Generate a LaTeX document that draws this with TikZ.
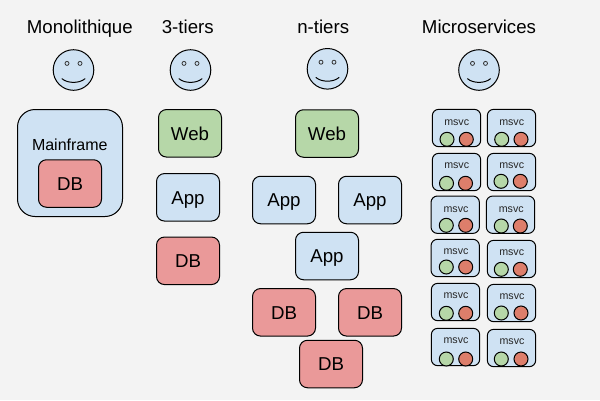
\documentclass[tikz,border=0pt]{standalone}
\usepackage{fontspec}
\setmainfont{Liberation Sans}
\definecolor{bgc}{HTML}{F3F3F3}
\definecolor{bluec}{HTML}{CFE2F3}
\definecolor{greenc}{HTML}{B6D7A8}
\definecolor{redc}{HTML}{EA9999}
\definecolor{dotred}{HTML}{DD7E6B}
\tikzset{
  title/.style={font=\fontsize{18.67}{22}\selectfont,anchor=base,inner sep=0pt,text=black},
  tier/.style={draw=black,line width=1pt,rounded corners=8pt,minimum width=63pt,minimum height=47.5pt,
    inner sep=0pt,outer sep=0pt,font=\fontsize{18.67}{22}\selectfont,text height=13.4pt,text depth=0pt,text=black},
  webbox/.style={tier,fill=greenc},
  appbox/.style={tier,fill=bluec},
  dbbox/.style={tier,fill=redc},
  mainbox/.style={draw=black,line width=1pt,rounded corners=17.5pt,fill=bluec,minimum width=105pt,minimum height=107pt,outer sep=0pt,inner sep=0pt},
  mainlabel/.style={font=\fontsize{16}{20}\selectfont,anchor=base,inner sep=0pt,text=black},
  msvcbox/.style={draw=black,line width=1pt,rounded corners=6.5pt,fill=bluec,minimum width=48.4pt,minimum height=37.4pt,outer sep=0pt,inner sep=0pt},
  msvclabel/.style={font=\fontsize{10.67}{12}\selectfont,inner sep=0pt,text height=5.6pt,text depth=0pt,text=black!85},
  dot/.style={draw=black,line width=1pt,circle,minimum size=14pt,inner sep=0pt,outer sep=0pt},
  face/.style={draw=black,line width=1pt,circle,fill=bluec,minimum size=40.6pt,inner sep=0pt,outer sep=0pt},
  eye/.style={draw=black!80,line width=.8pt,circle,fill=bluec,minimum size=4pt,inner sep=0pt,outer sep=0pt},
  smiley/.pic={
    \node[face] (-head) at (0,0) {};
    \node[eye] (-eyel) at (-6.5,-6.6) {};
    \node[eye] (-eyer) at (6.5,-6.6) {};
    \draw[line width=1pt,line cap=round] (-11.5,8.7) .. controls (-6,13.6) and (6,13.6) .. (11.5,8.7);
  }
}
\begin{document}
\begin{tikzpicture}[x=1pt,y=-1pt]
\useasboundingbox (0,0) rectangle (600,400);
\fill[bgc] (0,0) rectangle (600,400);
% titles
\node[title] (t1) at (79.8,33) {Monolithique};
\node[title] (t2) at (187.8,33) {3-tiers};
\node[title] (t3) at (323.2,33) {n-tiers};
\node[title] (t4) at (479,33) {Microservices};
% faces
\pic (f1) at (73.5,70) {smiley};
\pic (f2) at (190.5,70) {smiley};
\pic (f3) at (327.5,68.8) {smiley};
\pic (f4) at (479,70) {smiley};
% monolith
\node[mainbox] (main) at (70,163) {};
\node[mainlabel] (mainl) at (69.8,150) {Mainframe};
\node[dbbox] (mdb) at (70,183.5) {DB};
% 3 tiers
\node[webbox] (w3) at (190,133.3) {Web};
\node[appbox] (a3) at (188,197.3) {App};
\node[dbbox] (d3) at (188,260.8) {DB};
% n tiers
\node[webbox] (wn) at (327,133.5) {Web};
\node[appbox] (an1) at (284,200) {App};
\node[appbox] (an2) at (370,200) {App};
\node[appbox] (an3) at (327,256) {App};
\node[dbbox] (dn1) at (284,312.3) {DB};
\node[dbbox] (dn2) at (370,312.3) {DB};
\node[dbbox] (dn3) at (331,364) {DB};
% microservices: box centre, label centre, green x, red x, dot y
\foreach \n/\bx/\by/\lx/\ly/\gx/\rx/\dy in {
  a/456.5/128/456.7/122.7/447/466.3/139.3,
  b/511.5/128/511.7/122.7/501.7/521/139.3,
  c/456.5/172/456.7/166/446.5/465.5/183.3,
  d/511.5/172/511.7/166/501/520.3/181.3,
  e/455.2/214.7/456/209.3/446.3/465.7/225.3,
  f/510.5/214.7/511.3/209.3/501.3/520.3/226,
  g/455.2/258/456/252/446.3/465.7/267,
  h/511.5/259/511.7/253/501.3/520.3/269.3,
  i/455.5/302/456/296/446.3/465.7/313.3,
  j/511.5/303/512/297/501.3/521/313,
  k/455.5/347/456/341/446.3/465.7/359,
  l/511.5/348/512/342/501.3/521/359}{
  \node[msvcbox] (box\n) at (\bx,\by) {};
  \node[msvclabel] (lab\n) at (\lx,\ly) {msvc};
  \node[dot,fill=greenc] (g\n) at (\gx,\dy) {};
  \node[dot,fill=dotred] (r\n) at (\rx,\dy) {};
}
\end{tikzpicture}
\end{document}
